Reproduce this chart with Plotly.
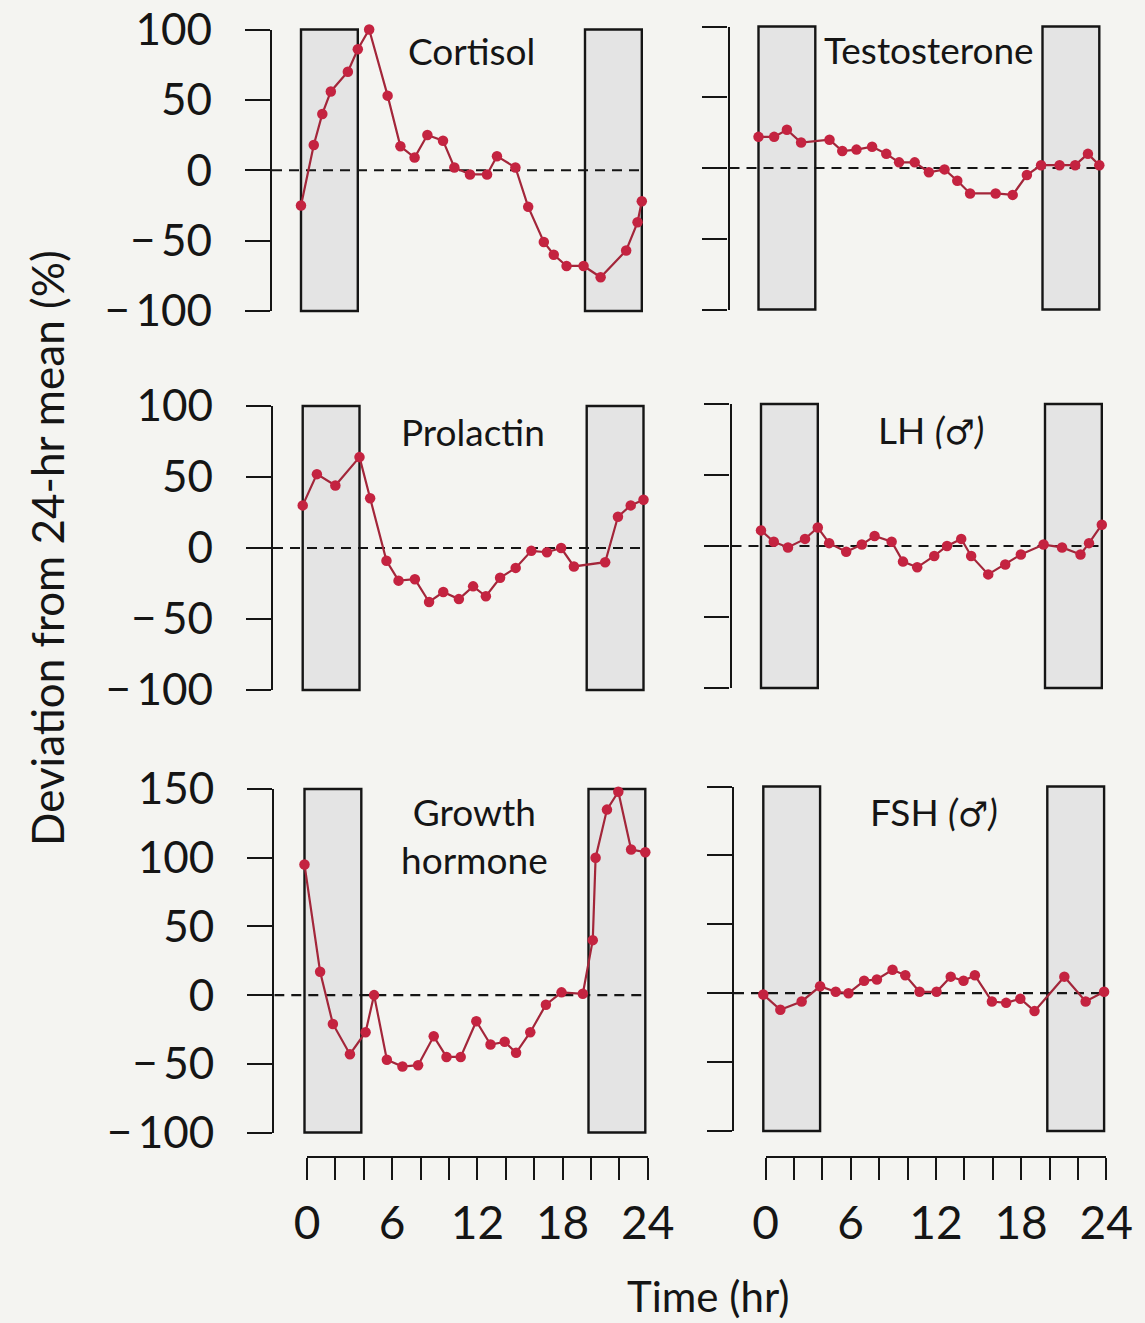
import plotly.graph_objects as go

W, H = 1145, 1323

# ---- data: % deviation from 24-hr mean, sampled over one day ----
hours_cortisol = [0, 0.9, 1.5, 2.1, 3.3, 4.0, 4.8, 6.1, 7.0, 8.0, 8.9, 10.0, 10.8, 11.9, 13.1,
                  13.8, 15.1, 16.0, 17.1, 17.8, 18.7, 19.9, 21.1, 22.9, 23.7, 24.0]
cortisol = [-25, 18, 40, 56, 70, 86, 100, 53, 17, 9, 25, 21, 2, -3, -3,
            10, 2, -26, -51, -60, -68, -68, -76, -57, -37, -22]

hours_testosterone = [0, 1.1, 2.0, 3.0, 5.0, 5.9, 6.9, 8.0, 9.0, 9.9, 11.0, 12.0, 13.1, 14.0,
                      14.9, 16.7, 17.9, 18.9, 19.9, 21.2, 22.3, 23.2, 24.0]
testosterone = [22, 22, 27, 18, 20, 12, 13, 15, 10, 4, 4, -3, -1, -9,
                -18, -18, -19, -5, 2, 2, 2, 10, 2]

hours_prolactin = [0, 1.0, 2.3, 4.0, 4.75, 5.9, 6.75, 7.9, 8.9, 9.9, 11.0, 12.0, 12.9, 13.9,
                   15.0, 16.1, 17.2, 18.2, 19.1, 21.3, 22.2, 23.1, 24.0]
prolactin = [30, 52, 44, 64, 35, -9, -23, -22, -38, -31, -36, -27, -34, -21,
             -14, -2, -3, 0, -13, -10, 22, 30, 34]

hours_lh = [0, 0.9, 1.9, 3.1, 4.0, 4.8, 6.0, 7.1, 8.0, 9.2, 10.0, 11.0, 12.2, 13.1, 14.1,
            14.8, 16.0, 17.2, 18.3, 19.9, 21.2, 22.5, 23.1, 24.0]
lh = [11, 3, -1, 5, 13, 2, -4, 1, 7, 3, -11, -15, -7, 0, 5,
      -7, -20, -13, -6, 1, -1, -6, 2, 15]

hours_gh = [0, 1.1, 2.0, 3.2, 4.3, 4.9, 5.8, 6.9, 8.0, 9.1, 10.0, 11.0, 12.1, 13.1, 14.1,
            14.9, 15.9, 17.0, 18.1, 19.6, 20.3, 20.5, 21.3, 22.1, 23.0, 24.0]
growth_hormone = [95, 17, -21, -43, -27, 0, -47, -52, -51, -30, -45, -45, -19, -36, -34,
                  -42, -27, -7, 2, 1, 40, 100, 135, 148, 106, 104]

hours_fsh = [0, 1.2, 2.7, 4.0, 5.1, 6.0, 7.1, 8.0, 9.1, 10.0, 11.0, 12.2, 13.2, 14.1, 14.9,
             16.1, 17.1, 18.1, 19.1, 21.2, 22.7, 24.0]
fsh = [-1, -12, -6, 5, 1, 0, 9, 10, 17, 13, 1, 1, 12, 9, 13,
       -6, -7, -4, -13, 12, -6, 1]

# shaded sleep periods (hours)
sleep_periods = [(0, 4), (20, 24)]

ticks_std = [-100, -50, 0, 50, 100]
ticks_tall = [-100, -50, 0, 50, 100, 150]
hour_ticks = list(range(0, 25, 2))
hour_labels = [str(h) if h % 6 == 0 else "" for h in hour_ticks]

FONT = "Lato"
INK = "#151515"
LINE_RED = "#a3263a"
DOT_RED = "#c42340"
PPH = 14.2  # pixels per hour

MALE = ' <i>(<span style="font-family:DejaVu Sans;font-size:34px">♂</span>)</i>'

# panel layout in pixels: y-axis spine x, x=0 position, top/bottom of the axis
panels = [
    dict(title="Cortisol", t=hours_cortisol, v=cortisol, spine=272, x0=301,
         top=29.5, bot=311, yr=(-100, 100), ticks=ticks_std, labels=True, ty=85),
    dict(title="Testosterone", t=hours_testosterone, v=testosterone, spine=729.5, x0=758.5,
         top=26.5, bot=309.5, yr=(-100, 100), ticks=ticks_std, labels=False, ty=84),
    dict(title="Prolactin", t=hours_prolactin, v=prolactin, spine=273, x0=302.7,
         top=406, bot=690, yr=(-100, 100), ticks=ticks_std, labels=True, ty=82),
    dict(title="LH" + MALE, t=hours_lh, v=lh, spine=731.5, x0=761,
         top=404, bot=688, yr=(-100, 100), ticks=ticks_std, labels=False, ty=82),
    dict(title="Growth<br>hormone", t=hours_gh, v=growth_hormone, spine=274.3, x0=304.5,
         top=789, bot=1132.5, yr=(-100, 150), ticks=ticks_tall, labels=True, ty=116),
    dict(title="FSH" + MALE, t=hours_fsh, v=fsh, spine=734, x0=763.3,
         top=786.5, bot=1131, yr=(-100, 150), ticks=ticks_tall, labels=False, ty=132),
]


def tick_text(v):
    return ("\u2212\u2009" + str(-v)) if v < 0 else str(v)


fig = go.Figure()
layout = dict(
    width=W, height=H,
    margin=dict(l=0, r=0, t=0, b=0, autoexpand=False),
    paper_bgcolor="#f4f4f1",
    plot_bgcolor="rgba(0,0,0,0)",
    showlegend=False,
    font=dict(family=FONT, color=INK),
)
shapes, annotations = [], []

for i, p in enumerate(panels, start=1):
    xs = "" if i == 1 else str(i)
    xa, ya = "x" + xs, "y" + xs
    x_start = -(p["x0"] - p["spine"]) / PPH
    x_end = 24.4
    dom_x = [p["spine"] / W, (p["x0"] + x_end * PPH) / W]
    dom_y = [1 - p["bot"] / H, 1 - p["top"] / H]

    layout["xaxis" + xs] = dict(domain=dom_x, range=[x_start, x_end], anchor=ya,
                                visible=False, fixedrange=True, automargin=False)
    layout["yaxis" + xs] = dict(
        domain=dom_y, range=list(p["yr"]), anchor=xa, automargin=False,
        showline=True, linecolor=INK, linewidth=2.2,
        ticks="outside", ticklen=25, tickwidth=2.2, tickcolor=INK,
        tickvals=p["ticks"], ticktext=[tick_text(v) for v in p["ticks"]],
        showticklabels=p["labels"], ticklabelstandoff=24,
        tickfont=dict(family=FONT, size=44, color=INK),
        showgrid=False, zeroline=False, fixedrange=True,
    )

    # sleep period boxes
    for a, b in sleep_periods:
        shapes.append(dict(type="rect", xref=xa, yref=ya + " domain", x0=a, x1=b, y0=0, y1=1,
                           fillcolor="#e4e4e4", line=dict(color=INK, width=2.4), layer="below"))
    # reference line at the 24-hr mean
    shapes.append(dict(type="line", xref=xa, yref=ya, x0=x_start, x1=24, y0=0, y1=0,
                       line=dict(color=INK, width=2.2, dash="10px,7px"), layer="below"))

    fig.add_trace(go.Scatter(
        x=p["t"], y=p["v"], xaxis=xa, yaxis=ya, mode="lines+markers",
        line=dict(color=LINE_RED, width=2.2),
        marker=dict(size=10.5, color=DOT_RED, line=dict(width=0)),
        cliponaxis=False, hoverinfo="skip",
    ))

    annotations.append(dict(text=p["title"], xref=xa, yref=ya, x=12, y=p["ty"],
                            xanchor="center", yanchor="middle",
                            showarrow=False, font=dict(family=FONT, size=37, color=INK)))

# hour scale brackets beneath each column
for k, (left_px, ref_y) in enumerate([(307, "y5"), (765.5, "y6")]):
    xid = str(7 + k)
    layout["xaxis" + xid] = dict(
        domain=[left_px / W, (left_px + 24 * PPH) / W], range=[0, 24],
        anchor="free", position=1 - 1157 / H, automargin=False,
        showline=True, linecolor=INK, linewidth=2.2,
        ticks="outside", ticklen=22, tickwidth=2.2, tickcolor=INK,
        tickvals=hour_ticks, ticktext=hour_labels, ticklabelstandoff=4,
        tickfont=dict(family=FONT, size=46, color=INK),
        showgrid=False, zeroline=False, fixedrange=True,
    )
    fig.add_trace(go.Scatter(x=[], y=[], xaxis="x" + xid, yaxis=ref_y, mode="markers",
                             hoverinfo="skip"))

annotations.append(dict(text="Time (hr)", xref="paper", yref="paper",
                        x=708 / W, y=1 - 1296 / H, xanchor="center", yanchor="middle",
                        showarrow=False, font=dict(family=FONT, size=42, color=INK)))
annotations.append(dict(text="Deviation from 24-hr mean (%)", xref="paper", yref="paper",
                        x=47 / W, y=1 - 548 / H, xanchor="center", yanchor="middle",
                        textangle=-90, showarrow=False,
                        font=dict(family=FONT, size=44, color=INK)))

layout["shapes"] = shapes
layout["annotations"] = annotations
fig.update_layout(**layout)

fig.write_html("out.html")
